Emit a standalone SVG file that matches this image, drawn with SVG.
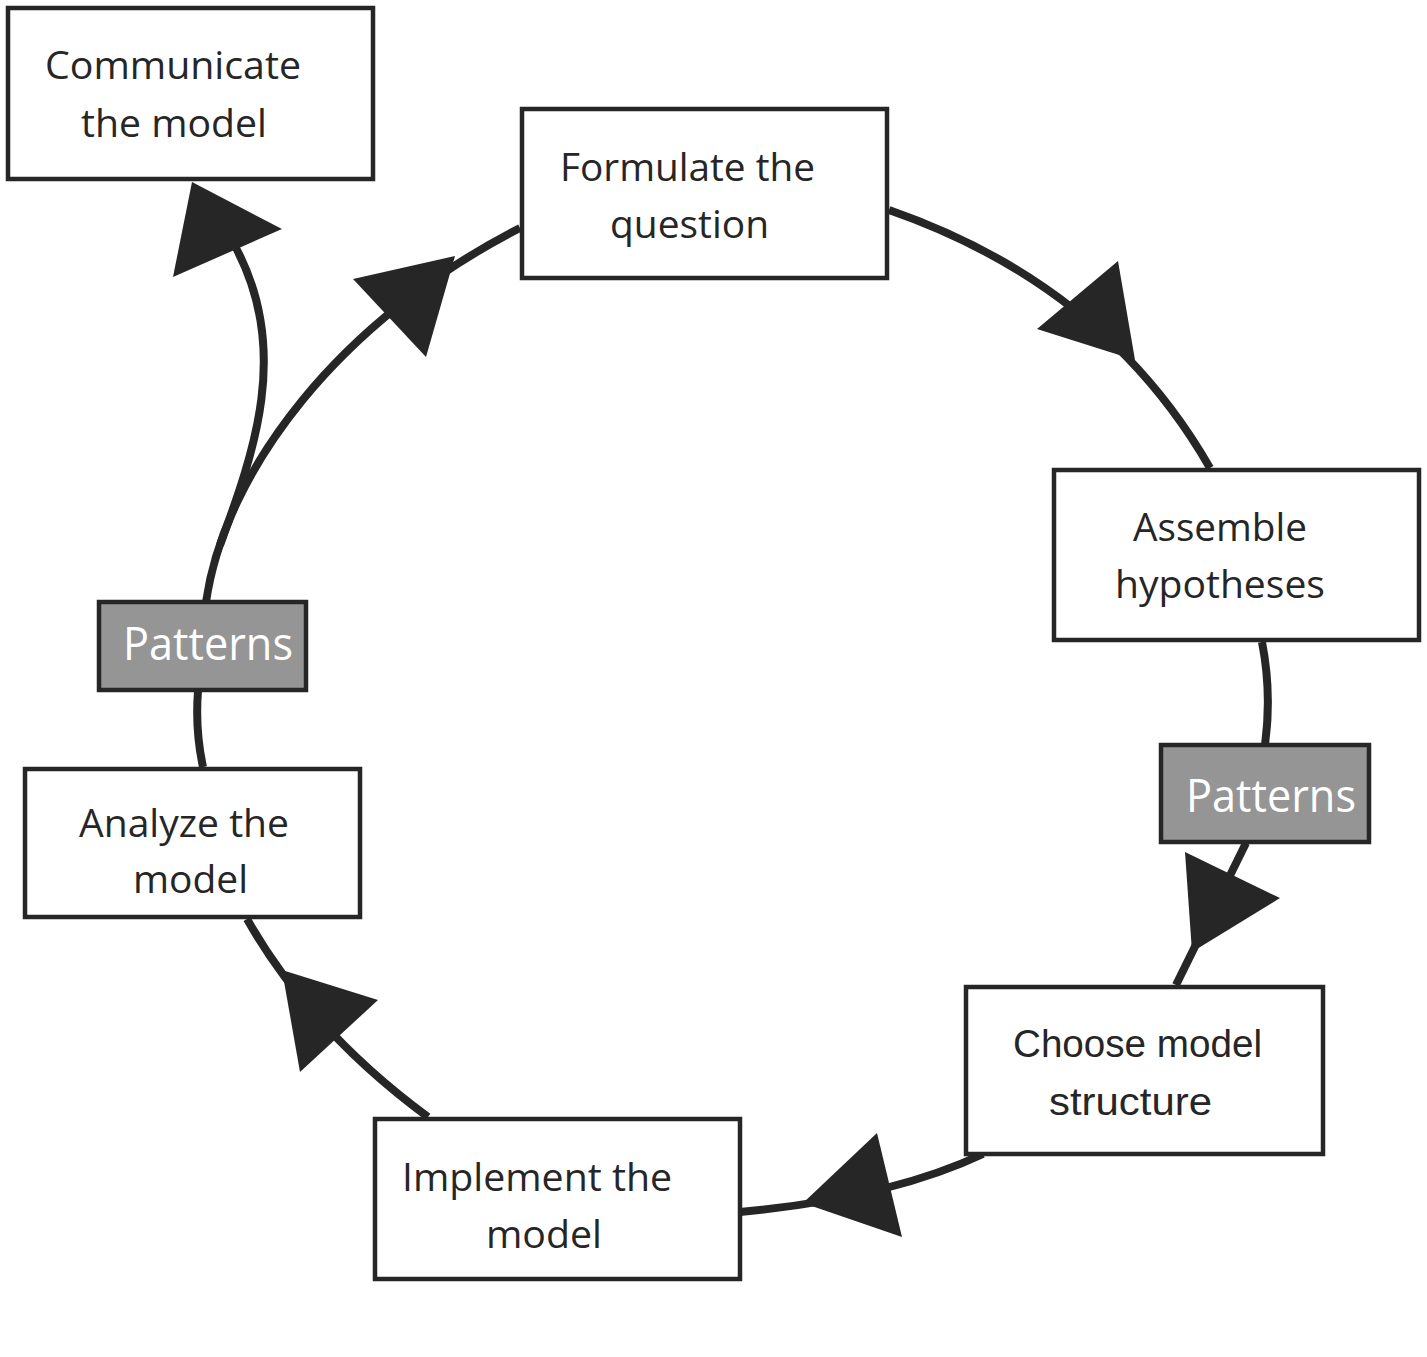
<svg xmlns="http://www.w3.org/2000/svg" width="1427" height="1357" viewBox="0 0 1427 1357">
<style>
.box{fill:#ffffff;stroke:#262626;stroke-width:4.5}
.pat{fill:#959595;stroke:#262626;stroke-width:4.5}
.t{font-family:"Open Sans","Noto Sans",sans-serif;font-size:38px;fill:#262626}
.ta{font-family:"Liberation Sans",Arial,sans-serif;font-size:38px;fill:#262626}
.tp{font-family:"Open Sans","Noto Sans",sans-serif;font-size:45px;fill:#ffffff}
.c{fill:none;stroke:#262626;stroke-width:8}
.ah{fill:#262626;stroke:none}
</style>
<rect width="1427" height="1357" fill="#ffffff"/>
<g id="connectors">
<path class="c" d="M 889 210 Q 1105 285 1210 468"/>
<path class="c" d="M 1262 642 Q 1272 693 1265 745"/>
<path class="c" d="M 1246 843 L 1176 985"/>
<path class="c" d="M 983 1154 Q 890 1198 740 1212"/>
<path class="c" d="M 428 1117 Q 310 1030 247 919"/>
<path class="c" d="M 203 767 Q 195 730 198 691"/>
<path class="c" d="M 206 602 C 225 470 340 320 520 228"/>
<path class="c" d="M 220 545 C 255 450 290 350 236 248"/>
<polygon class="ah" points="1118,261 1037,329 1135,360"/>
<polygon class="ah" points="1185,852 1280,898 1192,952"/>
<polygon class="ah" points="877,1133 803,1203 902,1237"/>
<polygon class="ah" points="282,970 378,1000 300,1072"/>
<polygon class="ah" points="353,279 455,256 426,357"/>
<polygon class="ah" points="192,182 282,229 173,277"/>
</g>
<g id="communicate">
<rect class="box" x="8" y="8" width="365" height="171"/>
<text class="t" x="45" y="79" textLength="256" lengthAdjust="spacingAndGlyphs">Communicate</text>
<text class="t" x="81" y="137" textLength="186" lengthAdjust="spacingAndGlyphs">the model</text>
</g>
<g id="formulate">
<rect class="box" x="522" y="109" width="365" height="169"/>
<text class="t" x="560" y="181" textLength="255" lengthAdjust="spacingAndGlyphs">Formulate the</text>
<text class="t" x="610" y="238" textLength="159" lengthAdjust="spacingAndGlyphs">question</text>
</g>
<g id="assemble">
<rect class="box" x="1054" y="470" width="365" height="170"/>
<text class="t" x="1133" y="541" textLength="174" lengthAdjust="spacingAndGlyphs">Assemble</text>
<text class="t" x="1115" y="598" textLength="210" lengthAdjust="spacingAndGlyphs">hypotheses</text>
</g>
<g id="patterns-right">
<rect class="pat" x="1161" y="745" width="208" height="97"/>
<text class="tp" x="1186" y="812" textLength="170" lengthAdjust="spacingAndGlyphs">Patterns</text>
</g>
<g id="choose">
<rect class="box" x="966" y="987" width="357" height="167"/>
<text class="ta" x="1013" y="1057" textLength="249" lengthAdjust="spacingAndGlyphs">Choose model</text>
<text class="ta" x="1049" y="1115" textLength="163" lengthAdjust="spacingAndGlyphs">structure</text>
</g>
<g id="implement">
<rect class="box" x="375" y="1119" width="365" height="160"/>
<text class="t" x="402" y="1191" textLength="270" lengthAdjust="spacingAndGlyphs">Implement the</text>
<text class="t" x="486" y="1248" textLength="116" lengthAdjust="spacingAndGlyphs">model</text>
</g>
<g id="analyze">
<rect class="box" x="25" y="769" width="335" height="148"/>
<text class="t" x="79" y="837" textLength="210" lengthAdjust="spacingAndGlyphs">Analyze the</text>
<text class="t" x="133" y="893" textLength="115" lengthAdjust="spacingAndGlyphs">model</text>
</g>
<g id="patterns-left">
<rect class="pat" x="99" y="602" width="207" height="88"/>
<text class="tp" x="123" y="660" textLength="170" lengthAdjust="spacingAndGlyphs">Patterns</text>
</g>
</svg>
